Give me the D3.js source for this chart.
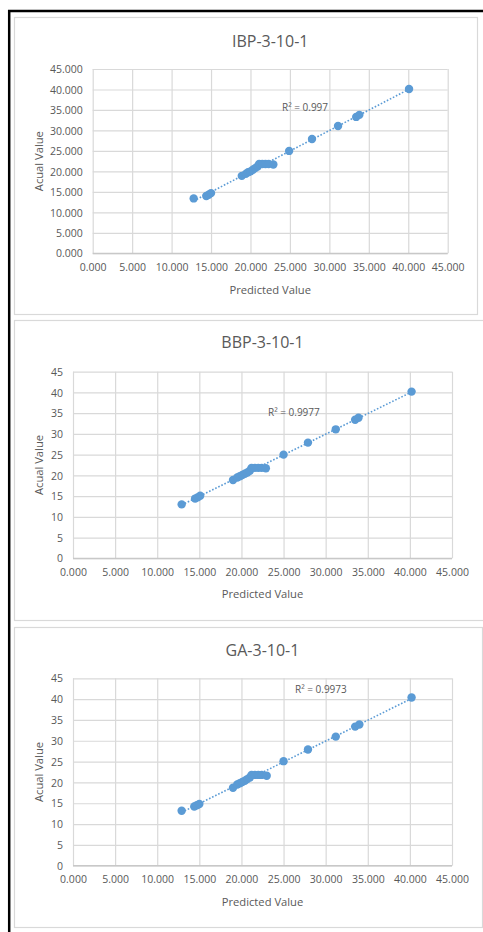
<!DOCTYPE html>
<html>
<head>
<meta charset="utf-8">
<script src="https://cdn.jsdelivr.net/npm/d3@7"></script>
<style>
  body { margin: 0; background: #fff; }
  text { font-family: "Open Sans", "Noto Sans", sans-serif; fill: #595959; }
</style>
</head>
<body>
<div class="canvas"></div>
<script>
// data
const titles = ['IBP-3-10-1', 'BBP-3-10-1', 'GA-3-10-1'];
const r2Labels = ['R² = 0.997', 'R² = 0.9977', 'R² = 0.9973'];
const xTicks = [0, 5, 10, 15, 20, 25, 30, 35, 40, 45];
const yTicks = [0, 5, 10, 15, 20, 25, 30, 35, 40, 45];

const predictedIBP = [12.8, 14.4, 14.7, 15.0, 18.9, 19.4, 19.7, 20.0, 20.3, 20.6, 20.9, 21.1, 21.5, 21.9, 22.3, 22.9, 24.9, 27.8, 31.1, 33.4, 33.8, 40.1];
const actualIBP    = [13.4, 14.0, 14.3, 14.7, 18.9, 19.4, 19.8, 20.0, 20.4, 20.8, 21.2, 21.8, 21.8, 21.8, 21.8, 21.7, 25.0, 27.9, 31.1, 33.3, 33.8, 40.1];

const predictedBBP = [12.9, 14.5, 14.8, 15.1, 19.0, 19.5, 19.8, 20.1, 20.4, 20.7, 21.0, 21.2, 21.6, 22.0, 22.4, 22.9, 25.0, 27.9, 31.2, 33.5, 33.9, 40.2];
const actualBBP    = [13.0, 14.4, 14.7, 15.1, 18.9, 19.5, 19.8, 20.1, 20.4, 20.7, 21.1, 21.8, 21.8, 21.8, 21.8, 21.7, 25.0, 27.9, 31.1, 33.4, 33.9, 40.2];

const predictedGA  = [12.9, 14.4, 14.7, 15.0, 19.0, 19.5, 19.8, 20.1, 20.4, 20.7, 21.0, 21.2, 21.6, 22.0, 22.4, 23.0, 25.0, 27.9, 31.2, 33.5, 34.0, 40.2];
const actualGA     = [13.2, 14.2, 14.5, 14.8, 18.7, 19.5, 19.8, 20.1, 20.4, 20.8, 21.2, 21.8, 21.8, 21.8, 21.8, 21.6, 25.1, 27.9, 31.0, 33.4, 33.9, 40.4];

const seriesX = [predictedIBP, predictedBBP, predictedGA];
const seriesY = [actualIBP, actualBBP, actualGA];

// layout of each panel (pixels)
const panels = [
  {box: [14, 17, 463, 297], plot: [92.7, 69, 447.7, 253.3], yFmt: d3.format('.3f'),
   titleY: 47, xTitleY: 294, yTitleX: 43, r2: [282, 111]},
  {box: [14, 320, 470, 300], plot: [73, 371.7, 452, 558.3], yFmt: d3.format('d'),
   titleY: 348, xTitleY: 598, yTitleX: 43, r2: [268, 416]},
  {box: [14, 627, 468, 300], plot: [73, 678.3, 452, 865.7], yFmt: d3.format('d'),
   titleY: 656, xTitleY: 906, yTitleX: 43, r2: [295, 693]}
];

const svg = d3.select('.canvas')
  .append('svg')
    .attr('width', 483)
    .attr('height', 932);

// black outer frame
svg.append('line').attr('x1', 9.2).attr('x2', 9.2).attr('y1', 10).attr('y2', 932)
  .attr('stroke', '#000').attr('stroke-width', 2.5);
svg.append('line').attr('x1', 8).attr('x2', 483).attr('y1', 11).attr('y2', 11)
  .attr('stroke', '#000').attr('stroke-width', 2.5);

const blue = '#5B9BD5';

panels.forEach((p, i) => {
  const [px, py, pw, ph] = p.box;
  svg.append('rect')
    .attr('x', px + 0.5).attr('y', py + 0.5)
    .attr('width', pw).attr('height', ph)
    .attr('fill', '#fff').attr('stroke', '#d9d9d9').attr('stroke-width', 1.2);

  const [x0, y0, x1, y1] = p.plot;
  const w = x1 - x0, h = y1 - y0;

  const x = d3.scaleLinear().domain([0, 45]).range([0, w]);
  const y = d3.scaleLinear().domain([0, 45]).range([h, 0]);

  const graph = svg.append('g')
    .attr('transform', `translate(${x0}, ${y0})`);

  // gridlines + axes
  const xAxis = d3.axisBottom(x).tickValues(xTicks).tickSize(-h).tickPadding(10)
    .tickFormat(d3.format('.3f'));
  const yAxis = d3.axisLeft(y).tickValues(yTicks).tickSize(-w).tickPadding(10)
    .tickFormat(p.yFmt);

  const xg = graph.append('g').attr('transform', `translate(0, ${h})`).call(xAxis);
  const yg = graph.append('g').call(yAxis);

  [xg, yg].forEach(g => {
    g.select('.domain').remove();
    g.selectAll('line').attr('stroke', '#d9d9d9').attr('stroke-width', 1.2);
    g.selectAll('text').attr('font-size', '10.5px').attr('fill', '#595959')
      .style('font-family', '"Open Sans", sans-serif');
  });
  yg.selectAll('text').attr('dy', '0.35em');

  // bottom axis line a bit darker
  graph.append('line').attr('x1', 0).attr('x2', w).attr('y1', h).attr('y2', h)
    .attr('stroke', '#c8c8c8').attr('stroke-width', 1.2);

  // trendline (least squares)
  const xs = seriesX[i], ys = seriesY[i];
  const mx = d3.mean(xs), my = d3.mean(ys);
  const slope = d3.sum(xs, (v, k) => (v - mx) * (ys[k] - my)) / d3.sum(xs, v => (v - mx) ** 2);
  const icpt = my - slope * mx;
  const [xmin, xmax] = d3.extent(xs);
  graph.append('line')
    .attr('x1', x(xmin)).attr('y1', y(slope * xmin + icpt))
    .attr('x2', x(xmax)).attr('y2', y(slope * xmax + icpt))
    .attr('stroke', blue).attr('stroke-width', 1.6)
    .attr('stroke-dasharray', '1.6 1.8');

  // points
  graph.selectAll('circle')
    .data(xs.map((v, k) => ({px: v, ay: ys[k]})))
    .enter()
    .append('circle')
      .attr('cx', d => x(d.px))
      .attr('cy', d => y(d.ay))
      .attr('r', 4.2)
      .attr('fill', blue);

  // titles
  svg.append('text')
    .attr('x', x0 + w / 2).attr('y', p.titleY)
    .attr('text-anchor', 'middle').attr('font-size', '16px')
    .text(titles[i]);

  svg.append('text')
    .attr('x', x0 + w / 2).attr('y', p.xTitleY)
    .attr('text-anchor', 'middle').attr('font-size', '11.2px')
    .text('Predicted Value');

  svg.append('text')
    .attr('transform', `translate(${p.yTitleX}, ${y0 + h / 2}) rotate(-90)`)
    .attr('text-anchor', 'middle').attr('font-size', '11.2px')
    .text('Acual Value');

  svg.append('text')
    .attr('x', p.r2[0]).attr('y', p.r2[1])
    .attr('font-size', '10px')
    .text(r2Labels[i]);
});
</script>
</body>
</html>
